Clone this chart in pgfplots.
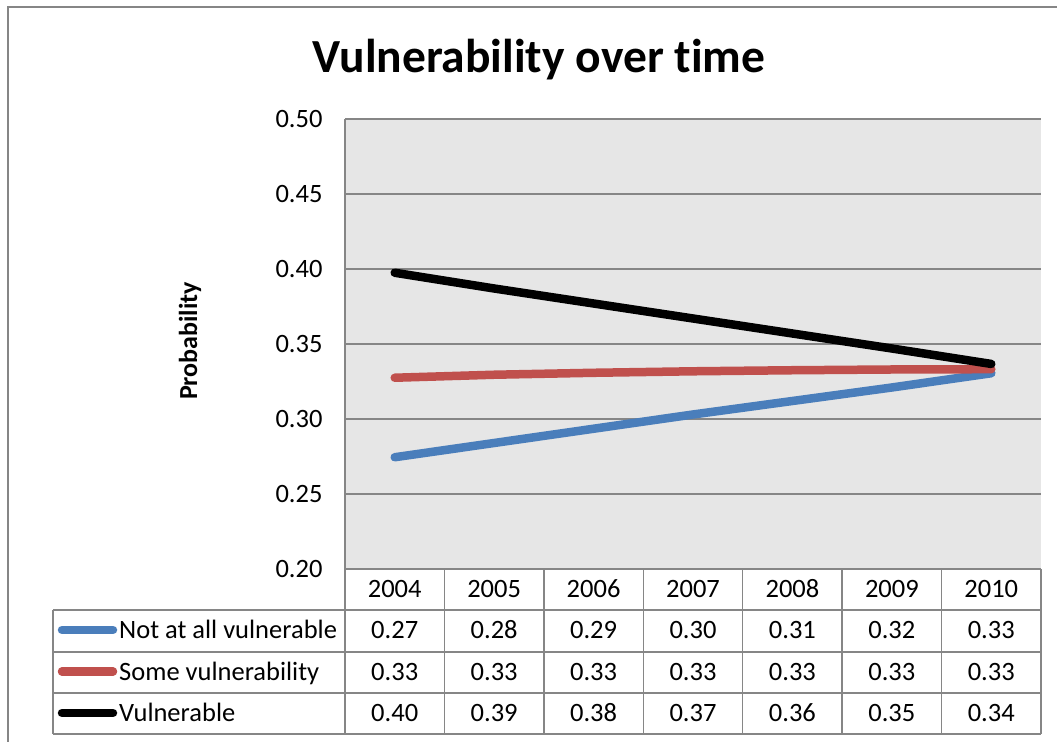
\documentclass[border=0pt]{standalone}
\usepackage{pgfplots}
\pgfplotsset{compat=1.18}
\usepackage{fontspec}
\setmainfont{Carlito}[Ligatures={NoCommon}]
\definecolor{gridgray}{RGB}{134,134,134}
\definecolor{plotbg}{RGB}{230,230,230}
\definecolor{sblue}{RGB}{74,126,187}
\definecolor{sred}{RGB}{192,80,77}
\newcommand{\tfont}{\fontsize{26.5bp}{31bp}\selectfont}
\begin{document}
\begin{tikzpicture}[x=1bp,y=1bp]
\useasboundingbox (0,0) rectangle (1057,742);
\fill[white] (0,0) rectangle (1057,742);
\draw[gridgray, line width=1.5bp] (8,-20) -- (8,735) -- (1080,735);
\node[anchor=base, font=\fontsize{47.5bp}{54bp}\selectfont\bfseries] at (539,669) {Vulnerability over time};
\node[rotate=90, font=\fontsize{26bp}{30bp}\selectfont\bfseries] at (190,401) {Probability};
\begin{axis}[at={(345bp,173bp)}, anchor=south west, scale only axis,
  width=696bp, height=450bp, xmin=-0.5, xmax=6.5, ymin=0.2, ymax=0.5,
  ytick={0.20,0.25,0.30,0.35,0.40,0.45,0.50}, xtick=\empty,
  /pgf/number format/assume math mode=true,
  yticklabel style={/pgf/number format/.cd, fixed, fixed zerofill, precision=2, /tikz/.cd, font=\tfont, xshift=-19bp},
  major tick length=0pt, ymajorgrids, grid style={gridgray, line width=1.5bp},
  axis line style={draw=none}, axis background/.style={fill=plotbg}, clip=false]
\draw[gridgray, line width=1.5bp] (rel axis cs:0,0) -- (rel axis cs:0,1);
\addplot[sblue, line width=8.5bp, line cap=round, line join=round] coordinates {(0,0.2745)(1,0.284)(2,0.2935)(3,0.303)(4,0.312)(5,0.321)(6,0.3305)};
\addplot[sred, line width=8.5bp, line cap=round, line join=round] coordinates {(0,0.3275)(1,0.3295)(2,0.3308)(3,0.3318)(4,0.3325)(5,0.333)(6,0.3332)};
\addplot[black, line width=8.5bp, line cap=round, line join=round] coordinates {(0,0.3975)(1,0.387)(2,0.377)(3,0.367)(4,0.357)(5,0.347)(6,0.3367)};
\end{axis}
% data table
\foreach \k in {0,...,7} {\draw[gridgray, line width=1.5bp] ({345+\k*99.4286},173) -- ({345+\k*99.4286},8);}
\foreach \yy in {132,90,49,8} {\draw[gridgray, line width=1.5bp] (53,\yy) -- (1041,\yy);}
\draw[gridgray, line width=1.5bp] (53,132) -- (53,8);
\draw[gridgray, line width=1.5bp] (345,173) -- (1041,173);
\draw[sblue, line width=8.5bp, line cap=round] (62,112) -- (113,112);
\draw[sred, line width=8.5bp, line cap=round] (62,70.5) -- (113,70.5);
\draw[black, line width=8.5bp, line cap=round] (62,29) -- (113,29);
\node[anchor=base west, font=\tfont, inner sep=0pt] at (119,103) {Not at all vulnerable};
\node[anchor=base west, font=\tfont, inner sep=0pt] at (119,61) {Some vulnerability};
\node[anchor=base west, font=\tfont, inner sep=0pt] at (119,20) {Vulnerable};
\foreach \lab [count=\i from 0] in {2004,2005,2006,2007,2008,2009,2010} {\node[anchor=base, font=\tfont, inner sep=0pt] at ({345+(\i+0.5)*99.4286},144) {\lab};}
\foreach \lab [count=\i from 0] in {0.27,0.28,0.29,0.30,0.31,0.32,0.33} {\node[anchor=base, font=\tfont, inner sep=0pt] at ({345+(\i+0.5)*99.4286},103) {\lab};}
\foreach \lab [count=\i from 0] in {0.33,0.33,0.33,0.33,0.33,0.33,0.33} {\node[anchor=base, font=\tfont, inner sep=0pt] at ({345+(\i+0.5)*99.4286},61) {\lab};}
\foreach \lab [count=\i from 0] in {0.40,0.39,0.38,0.37,0.36,0.35,0.34} {\node[anchor=base, font=\tfont, inner sep=0pt] at ({345+(\i+0.5)*99.4286},20) {\lab};}
\end{tikzpicture}
\end{document}
